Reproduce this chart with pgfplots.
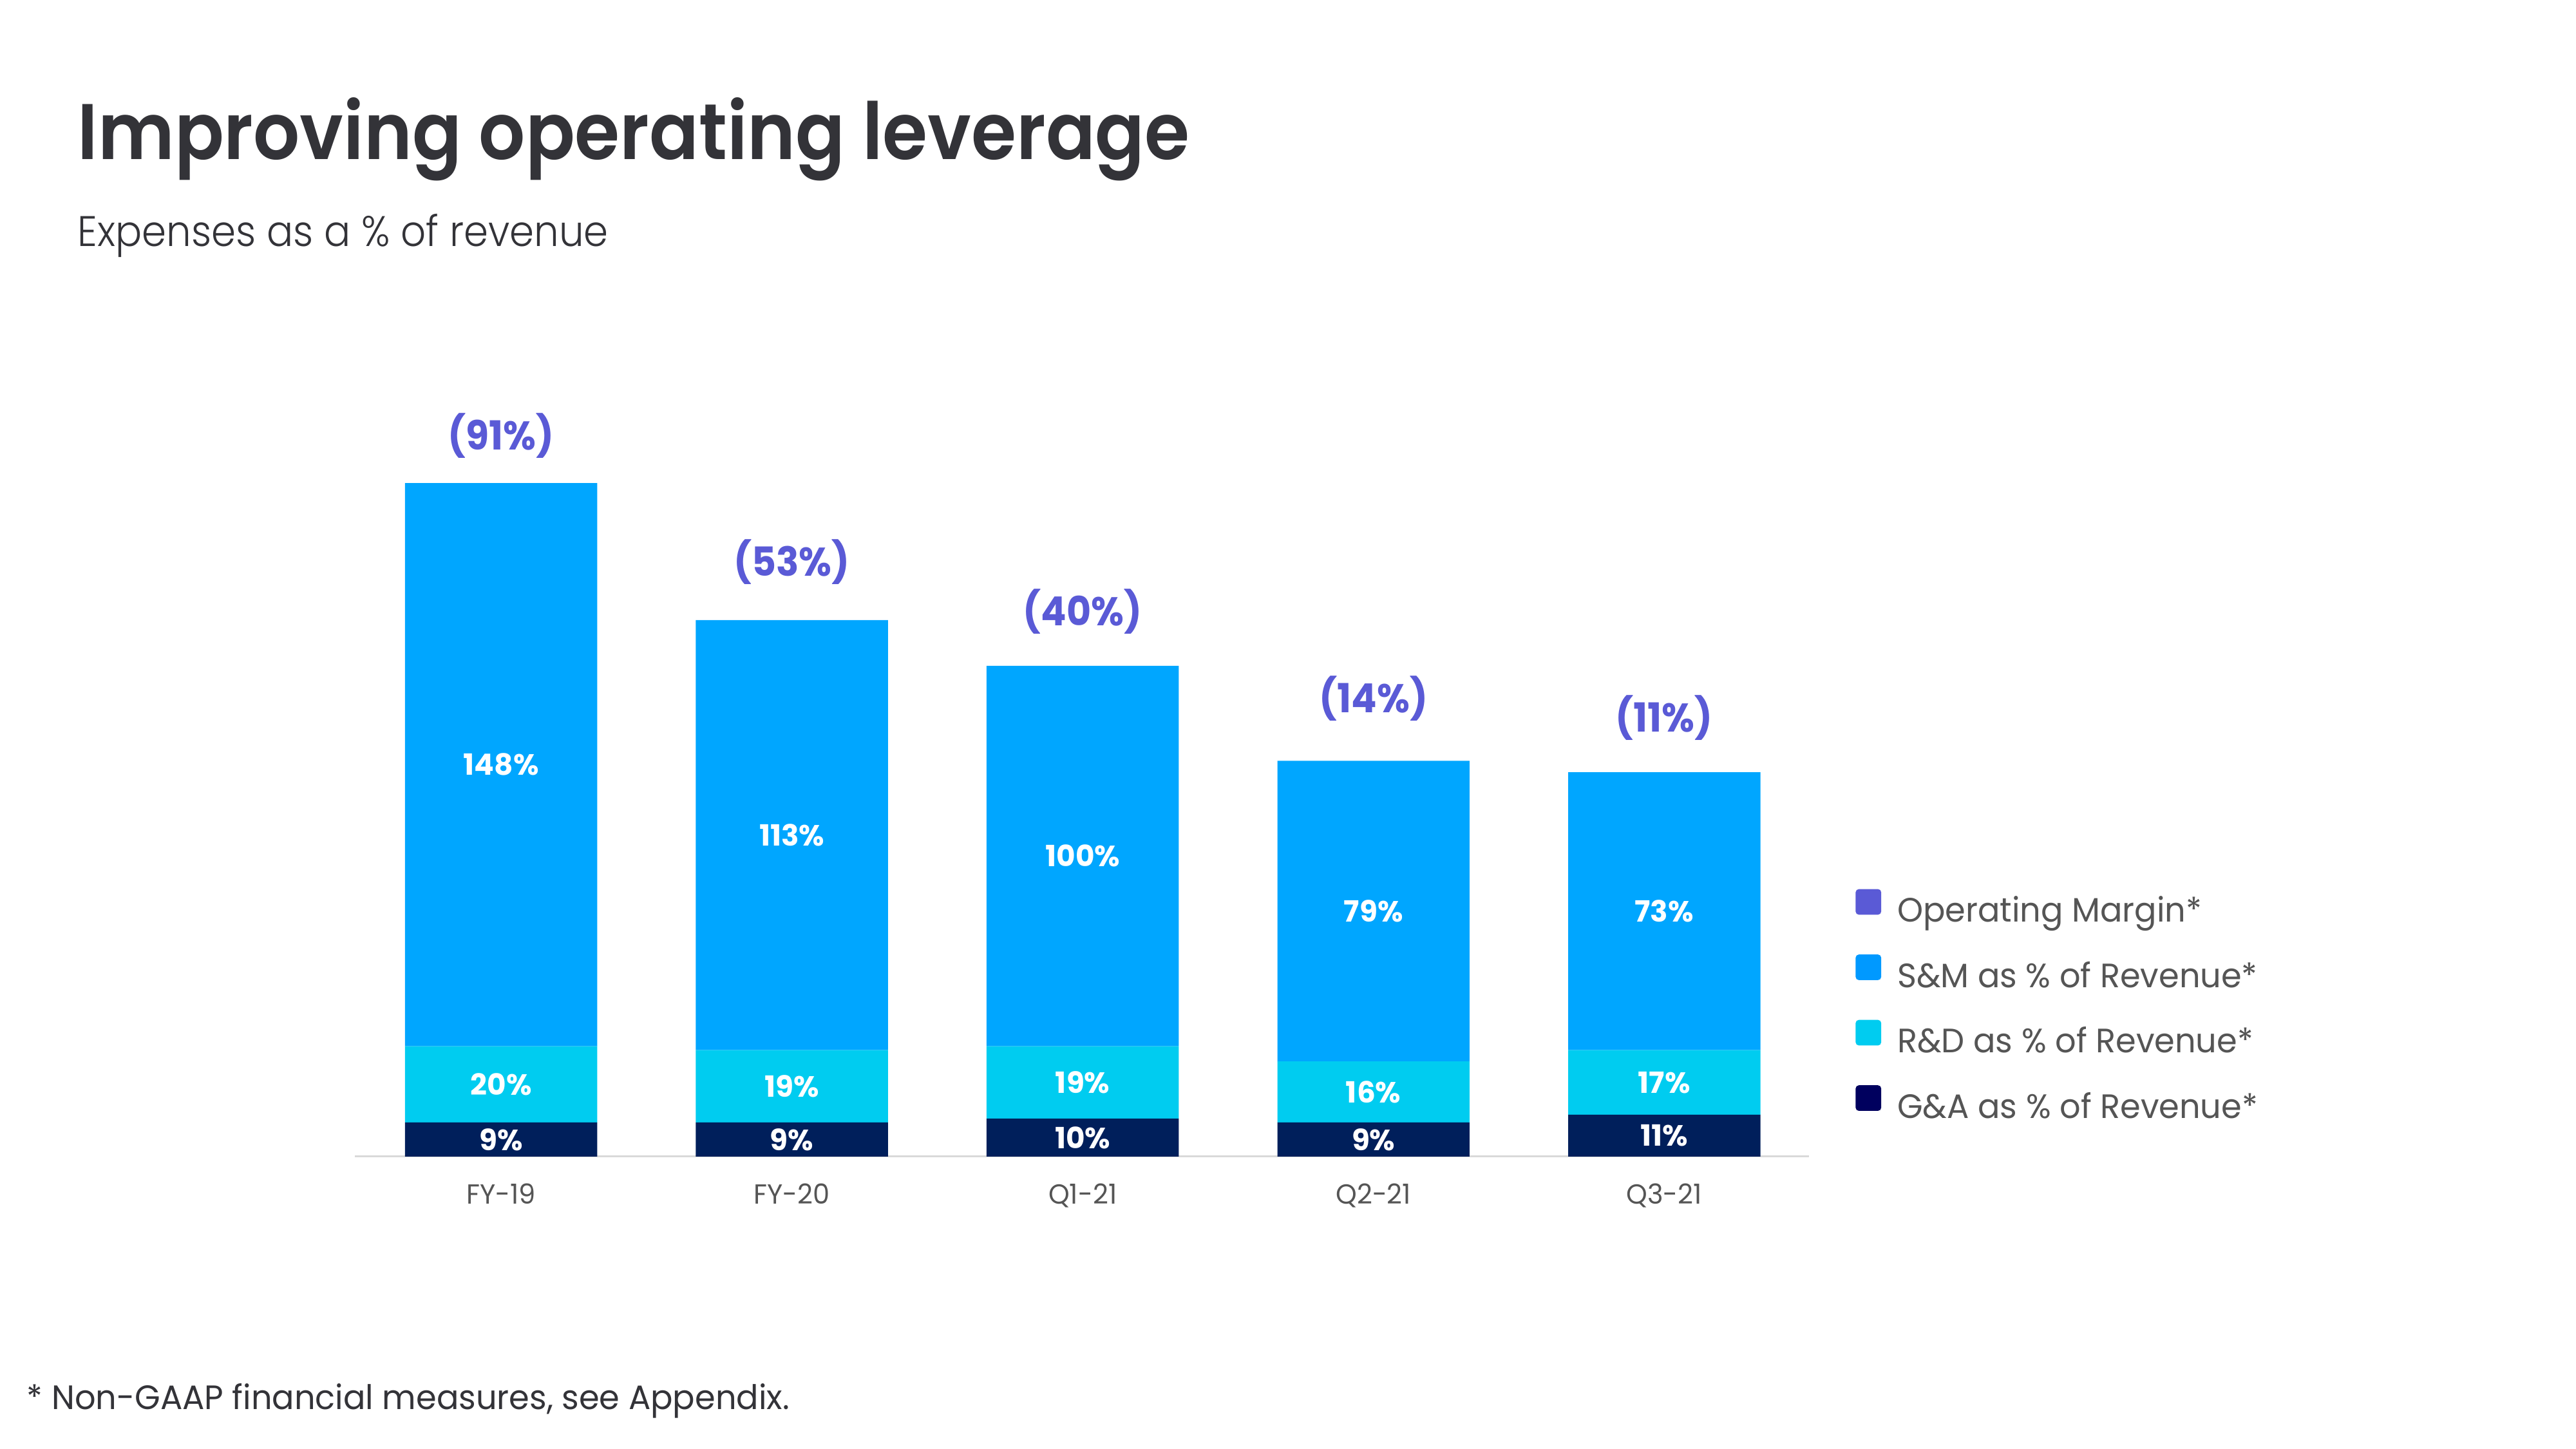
\documentclass[border=0pt]{standalone}
\usepackage{pgfplots}
\pgfplotsset{compat=1.18}
\usepackage{pgfplotstable}
\usepackage{fontspec}
\setmainfont{Poppins}
\IfFontExistsTF{Poppins SemiBold}
  {\newfontfamily\titlefont{Poppins SemiBold}[FakeStretch=0.925]}
  {\newfontfamily\titlefont{Poppins Medium}[FakeStretch=0.93]}
\IfFontExistsTF{Poppins Light}
  {\newfontfamily\subfont{Poppins Light}[FakeStretch=0.92]}
  {\newfontfamily\subfont{Poppins}[FakeStretch=0.91]}
\newfontfamily\narrowfont{Poppins}[FakeStretch=0.97]
\newfontfamily\labfont{Poppins}[FakeStretch=0.94]
\definecolor{cSM}{HTML}{00A6FF}
\definecolor{cRD}{HTML}{00CCF0}
\definecolor{cGA}{HTML}{001F5B}
\definecolor{cOM}{HTML}{5A5AD6}
\definecolor{cLegSM}{HTML}{0099FF}
\definecolor{cLegGA}{HTML}{00005E}
\definecolor{cTitle}{HTML}{333338}
\definecolor{cText}{HTML}{555555}
\definecolor{cAxis}{HTML}{D9D9D9}

% gap = invisible spacer above each bar; the margin label sits at its middle
\pgfplotstableread{
idx ga rd sm gap om
0 9 20 148 25.0 91
1 9 19 113 30.6 53
2 10 19 100 28.6 40
3 9 16 79 32.8 14
4 11 17 73 28.6 11
}\data

\begin{document}
\begin{tikzpicture}
\path[fill=white] (0,0) rectangle (784pt,-441pt);
\node[anchor=base west, inner sep=0pt, text=cTitle, font=\fontsize{24}{28}\titlefont] at (23.5pt,-48.5pt) {Improving operating leverage};
\node[anchor=base west, inner sep=0pt, text=cTitle, font=\fontsize{13}{15}\subfont] at (23.5pt,-75pt) {Expenses as a \% of revenue};
\node[anchor=base west, inner sep=0pt, text=cTitle, font=\fontsize{10.3}{12}\narrowfont] at (8pt,-428.9pt) {* Non-GAAP financial measures, see Appendix.};
\begin{axis}[
  at={(108pt,-352pt)}, anchor=south west,
  scale only axis, width=442.5pt, height=231.6pt,
  xmin=-0.503, xmax=4.497, ymin=0, ymax=200,
  ybar stacked, bar width=58.5pt,
  axis x line*=bottom, axis y line=none,
  x axis line style={draw=cAxis, line width=0.6pt, -},
  xtick={0,1,2,3,4}, xticklabels={FY-19,FY-20,Q1-21,Q2-21,Q3-21},
  major tick length=0pt,
  xticklabel style={font=\fontsize{8.4}{10}\narrowfont, text=cText, anchor=base, yshift=-14.5pt},
  clip=false,
  reverse legend,
  legend cell align=left,
  legend style={at={(1.0322,0.3515)}, anchor=north west, draw=none, fill=none,
    inner sep=0pt, outer sep=0pt, row sep=7.9pt,
    font=\fontsize{10.3}{12}\narrowfont, text=cText,
    nodes={inner sep=0pt, text height=7pt, text depth=2pt},
    /tikz/every odd column/.append style={column sep=4.9pt}},
  barlab/.style={nodes near coords={\pgfplotspointmeta\%}, point meta=explicit symbolic,
    every node near coord/.append style={anchor=center, text=white, font=\fontsize{8.9}{10}\selectfont\bfseries}},
]
\addplot[fill=cGA, draw=none, barlab,
  legend image code/.code={\fill[cLegGA, rounded corners=1pt] (0pt,-0.3pt) rectangle (7.8pt,7.5pt);}]
  table[x=idx, y=ga, meta=ga] {\data};
\addlegendentry{G\&A as \% of Revenue*}
\addplot[fill=cRD, draw=none, barlab,
  legend image code/.code={\fill[cRD, rounded corners=1pt] (0pt,-0.3pt) rectangle (7.8pt,7.5pt);}]
  table[x=idx, y=rd, meta=rd] {\data};
\addlegendentry{R\&D as \% of Revenue*}
\addplot[fill=cSM, draw=none, barlab,
  legend image code/.code={\fill[cLegSM, rounded corners=1pt] (0pt,-0.3pt) rectangle (7.8pt,7.5pt);}]
  table[x=idx, y=sm, meta=sm] {\data};
\addlegendentry{S\&M as \% of Revenue*}
\addplot[fill=none, draw=none, nodes near coords={(\pgfplotspointmeta\%)}, point meta=explicit symbolic,
  every node near coord/.append style={anchor=center, text=cOM, font=\fontsize{12.2}{14}\labfont\bfseries},
  legend image code/.code={\fill[cOM, rounded corners=1pt] (0pt,-0.3pt) rectangle (7.8pt,7.5pt);}]
  table[x=idx, y=gap, meta=om] {\data};
\addlegendentry{Operating Margin*}
\end{axis}
\end{tikzpicture}
\end{document}
